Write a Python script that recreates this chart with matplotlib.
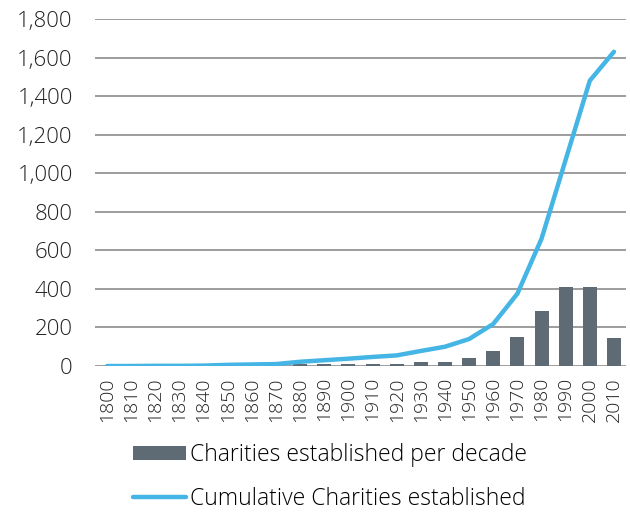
import matplotlib
matplotlib.use("Agg")
import matplotlib.pyplot as plt
import numpy as np

plt.rcParams['font.family'] = ['Open Sans', 'DejaVu Sans']
plt.rcParams['font.weight'] = 'light'

decades = ["1800", "1810", "1820", "1830", "1840", "1850", "1860", "1870", "1880", "1890",
           "1900", "1910", "1920", "1930", "1940", "1950", "1960", "1970", "1980", "1990",
           "2000", "2010"]
per_decade = [0, 0, 1, 0, 1, 4, 2, 2, 12, 8, 8, 9, 8, 19, 19, 40, 77, 153, 285, 410, 412, 146]
cumulative = [0, 0, 1, 1, 2, 6, 8, 10, 22, 30, 38, 47, 55, 78, 100, 140, 218, 375, 660, 1070, 1480, 1630]
yticks = [0, 200, 400, 600, 800, 1000, 1200, 1400, 1600, 1800]

bar_color = "#5f6b74"
line_color = "#44b5e4"
grid_color = "#8c8c8c"

fig = plt.figure(figsize=(6.3, 5.13), dpi=100)
ax = fig.add_axes([95/630, 1 - 366/513, 531/630, 347/513])

x = np.arange(len(decades))
bars = ax.bar(x, per_decade, width=0.58, color=bar_color, zorder=2)
line, = ax.plot(x, cumulative, color=line_color, lw=3.2, solid_capstyle='round', zorder=3)

ax.set_ylim(0, 1800)
ax.set_xlim(-0.5, len(decades) - 0.5)
ax.set_yticks(yticks)
ax.set_yticklabels([f"{v:,}" for v in yticks])
ax.set_xticks(x)
ax.set_xticklabels(decades, rotation=90)
ax.tick_params(axis='both', length=0, colors="#222222")
ax.tick_params(axis='y', pad=16, labelsize=16)
ax.tick_params(axis='x', pad=8, labelsize=14)
ax.yaxis.grid(True, color=grid_color, lw=1.2, zorder=0)
for s in ax.spines.values():
    s.set_visible(False)

fig.legend([bars, line], ["Charities established per decade", "Cumulative Charities established"],
           loc='center', bbox_to_anchor=(330/630, 1 - 477/513), frameon=False,
           fontsize=16.5, handlelength=2.3, handleheight=0.6, handletextpad=0.15,
           labelspacing=0.85)

fig.savefig("out.png", dpi=100)
